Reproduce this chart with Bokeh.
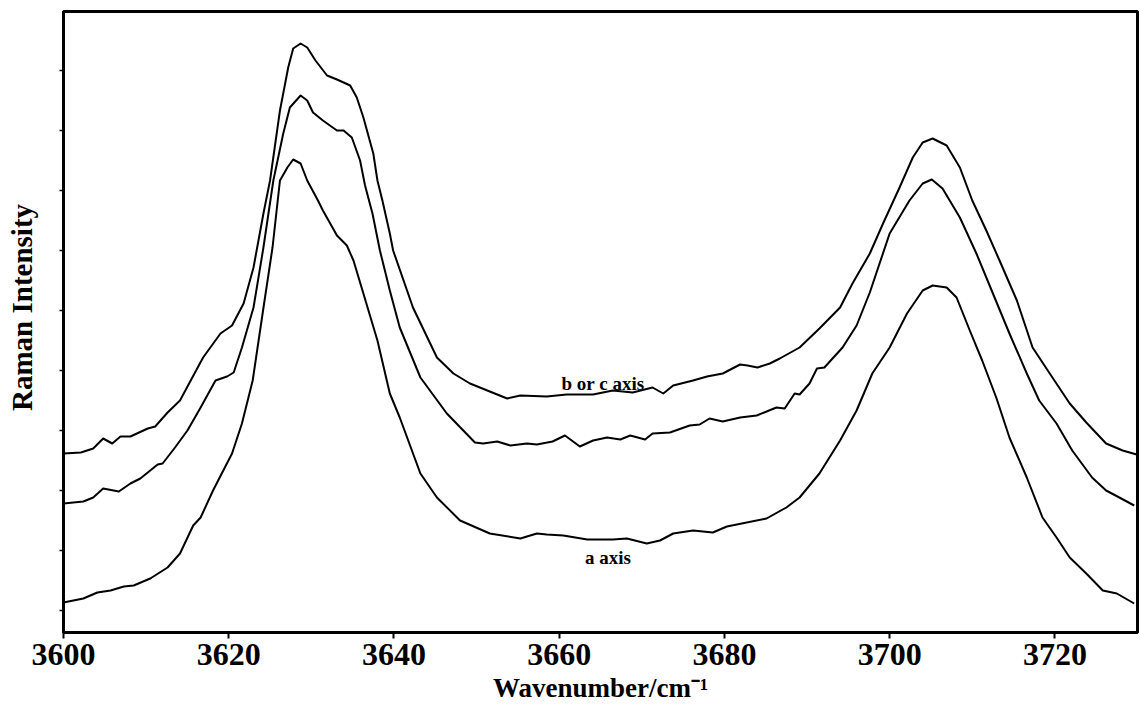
from bokeh.plotting import figure
from bokeh.models import Range1d, FixedTicker, Label, CustomLabelingPolicy
from bokeh.embed import file_html
from bokeh.resources import INLINE

# ---- data (wavenumber in cm^-1, intensity in arbitrary units) ----
bc_upper_wn = [3600.0, 3602.1, 3603.6, 3604.8, 3605.9, 3606.9, 3608.1, 3610.2, 3611.1, 3612.6,
               3614.1, 3615.4, 3616.9, 3619.0, 3620.4, 3621.8, 3623.0, 3624.2, 3625.0, 3626.2,
               3627.2, 3627.8, 3628.7, 3629.5, 3630.5, 3631.9, 3633.1, 3634.7, 3635.5, 3636.3,
               3637.5, 3638.0, 3638.6, 3639.5, 3639.9, 3642.3, 3645.2, 3647.2, 3649.2, 3651.3,
               3653.7, 3655.3, 3658.5, 3660.9, 3664.1, 3666.5, 3668.9, 3671.3, 3672.6, 3673.8,
               3676.2, 3677.9, 3679.8, 3681.9, 3682.8, 3684.0, 3685.5, 3686.7, 3689.1, 3691.5,
               3694.0, 3695.5, 3697.6, 3699.2, 3701.2, 3702.8, 3704.0, 3705.2, 3706.9, 3708.5,
               3710.0, 3711.7, 3713.3, 3715.4, 3717.3, 3719.7, 3721.8, 3723.8, 3726.2, 3728.2,
               3729.9]
bc_upper_int = [179, 180, 184, 194, 189, 196, 196, 204, 206, 220,
                232, 252, 275, 299, 307, 329, 365, 419, 452, 522,
                565, 584, 589, 585, 572, 557, 553, 547, 535, 515,
                479, 452, 432, 399, 382, 325, 275, 259, 249, 242,
                234, 237, 236, 238, 238, 242, 240, 245, 239, 247,
                252, 256, 259, 268, 267, 265, 269, 274, 285, 304,
                325, 349, 379, 409, 445, 475, 490, 494, 487, 465,
                432, 402, 372, 332, 285, 255, 229, 210, 189, 182,
                178]

bc_lower_wn = [3600.0, 3602.4, 3603.6, 3604.8, 3606.7, 3608.1, 3609.3, 3611.4, 3612.0, 3613.5,
               3615.0, 3616.6, 3618.4, 3619.8, 3620.6, 3621.6, 3623.0, 3624.2, 3625.4, 3626.6,
               3627.4, 3628.7, 3629.5, 3630.2, 3631.4, 3633.1, 3633.9, 3634.9, 3635.9, 3636.5,
               3637.4, 3638.3, 3639.5, 3640.7, 3643.2, 3646.4, 3649.8, 3650.8, 3652.5, 3654.1,
               3656.1, 3657.3, 3659.2, 3660.7, 3662.5, 3664.1, 3665.8, 3667.4, 3668.6, 3670.4,
               3671.3, 3673.4, 3675.8, 3677.0, 3678.2, 3679.8, 3681.9, 3683.9, 3686.3, 3687.3,
               3688.5, 3689.1, 3690.3, 3691.2, 3692.1, 3694.3, 3696.0, 3697.6, 3700.0, 3702.4,
               3704.0, 3705.1, 3706.4, 3708.5, 3710.5, 3712.5, 3714.5, 3716.6, 3718.1, 3720.2,
               3722.1, 3724.5, 3726.2, 3727.8, 3729.6]
bc_lower_int = [129, 131, 135, 144, 141, 149, 154, 168, 169, 185,
                202, 225, 252, 256, 260, 285, 325, 385, 452, 499,
                525, 537, 532, 520, 512, 502, 502, 495, 472, 447,
                419, 382, 342, 305, 255, 219, 190, 189, 191, 187,
                189, 188, 191, 197, 186, 192, 195, 193, 197, 193,
                199, 200, 207, 208, 214, 211, 215, 217, 225, 224,
                239, 238, 249, 264, 265, 285, 307, 340, 399, 432,
                449, 453, 444, 415, 379, 339, 299, 259, 232, 209,
                182, 155, 142, 135, 127]

a_wn = [3600.0, 3602.4, 3604.1, 3605.7, 3607.3, 3608.5, 3610.5, 3612.6, 3614.1, 3615.7,
        3616.6, 3618.1, 3620.4, 3621.6, 3622.9, 3624.1, 3625.3, 3626.2, 3627.1, 3627.8,
        3628.7, 3629.5, 3630.8, 3631.4, 3633.1, 3634.3, 3635.1, 3636.3, 3638.0, 3639.5,
        3640.7, 3643.2, 3645.2, 3648.0, 3651.6, 3655.3, 3657.3, 3658.5, 3660.5, 3663.4,
        3666.5, 3668.2, 3670.6, 3672.2, 3673.8, 3676.2, 3678.6, 3680.3, 3682.7, 3685.1,
        3687.5, 3689.1, 3691.5, 3694.0, 3696.0, 3697.9, 3700.0, 3702.1, 3704.0, 3705.2,
        3706.9, 3708.1, 3709.7, 3711.2, 3712.9, 3714.5, 3716.6, 3718.5, 3720.2, 3721.8,
        3723.8, 3725.8, 3727.5, 3729.6]
a_int = [30, 34, 40, 42, 46, 47, 54, 65, 79, 107,
         115, 142, 179, 209, 252, 319, 385, 452, 465, 473,
         469, 452, 432, 422, 397, 387, 372, 339, 292, 239,
         215, 159, 135, 112, 99, 94, 99, 98, 97, 93,
         93, 94, 89, 92, 99, 102, 100, 106, 110, 114,
         125, 135, 159, 192, 222, 259, 285, 319, 342, 347,
         345, 335, 302, 272, 235, 195, 155, 115, 95, 75,
         59, 42, 39, 29]

x_ticks = [3600, 3620, 3640, 3660, 3680, 3700, 3720]
y_ticks = [22, 82, 142, 202, 262, 322, 382, 442, 502, 562]
curve_labels = ["b or c axis", "a axis"]
curve_label_wn = [3665.3, 3665.9]
curve_label_int = [249, 75]

FONT = "Liberation Serif"

p = figure(width=1140, height=706, output_backend="svg", toolbar_location=None,
           x_range=Range1d(3600, 3730), y_range=Range1d(0, 621),
           min_border_left=63, min_border_right=3, min_border_top=11, min_border_bottom=74,
           background_fill_color="white", border_fill_color="white")

p.xgrid.grid_line_color = None
p.ygrid.grid_line_color = None
p.outline_line_color = "black"
p.outline_line_width = 3

for xs, ys in [(bc_upper_wn, bc_upper_int), (bc_lower_wn, bc_lower_int), (a_wn, a_int)]:
    p.line(xs, ys, line_color="black", line_width=2, line_join="round")

for t, xv, yv in zip(curve_labels, curve_label_wn, curve_label_int):
    p.add_layout(Label(x=xv, y=yv, text=t, text_align="center", text_baseline="middle",
                       text_font=FONT, text_font_style="bold", text_font_size="19px",
                       text_color="black"))

xa = p.xaxis[0]
xa.ticker = FixedTicker(ticks=x_ticks)
xa.axis_line_width = 3
xa.major_tick_out = 6
xa.major_tick_in = 0
xa.major_tick_line_width = 2
xa.minor_tick_line_color = None
xa.major_label_standoff = 5
xa.major_label_text_font = FONT
xa.major_label_text_font_style = "bold"
xa.major_label_text_font_size = "32px"
xa.major_label_text_color = "black"
xa.axis_label = "Wavenumber/cm\u207b\u00b9"
xa.axis_label_text_font = FONT
xa.axis_label_text_font_style = "bold"
xa.axis_label_text_font_size = "27px"
xa.axis_label_text_color = "black"
xa.axis_label_standoff = 5

ya = p.yaxis[0]
ya.ticker = FixedTicker(ticks=y_ticks)
ya.axis_line_width = 3
ya.major_tick_out = 4
ya.major_tick_in = 0
ya.major_tick_line_width = 1.5
ya.minor_tick_line_color = None
ya.major_label_text_font_size = "0px"
ya.major_label_standoff = 0
ya.major_label_policy = CustomLabelingPolicy(code="""
    const n = indices.size;
    for (let i = 0; i < n; i++) indices.unset(i);
    return indices;
""")
ya.axis_label = "\u2003Raman Intensity"
ya.axis_label_text_font = FONT
ya.axis_label_text_font_style = "bold"
ya.axis_label_text_font_size = "29px"
ya.axis_label_text_color = "black"
ya.axis_label_standoff = 22

open("out.html", "w").write(file_html(p, INLINE))
